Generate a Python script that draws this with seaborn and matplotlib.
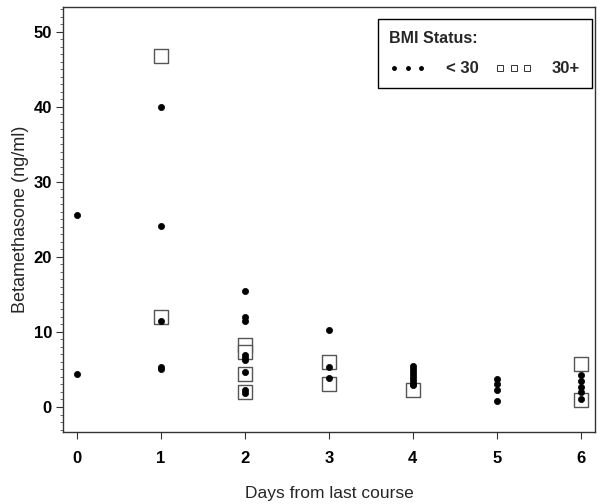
import matplotlib
matplotlib.use('Agg')
import matplotlib.pyplot as plt
from matplotlib.ticker import MultipleLocator
import seaborn as sns
import pandas as pd

# BMI < 30 (dots)
days_lo = [0, 0,
           1, 1, 1, 1, 1,
           2, 2, 2, 2, 2, 2, 2, 2, 2,
           3, 3, 3,
           4, 4, 4, 4, 4, 4, 4, 4,
           5, 5, 5, 5,
           6, 6, 6, 6, 6]
conc_lo = [25.6, 4.4,
           40.0, 24.1, 11.5, 5.3, 5.1,
           15.4, 12.0, 11.5, 6.9, 6.5, 6.2, 4.7, 2.2, 1.9,
           10.2, 5.3, 3.8,
           5.5, 5.1, 4.7, 4.3, 3.9, 3.5, 3.1, 2.9,
           3.7, 3.0, 2.3, 0.8,
           4.3, 3.4, 2.7, 2.0, 1.1]

# BMI 30+ (open squares)
days_hi = [1, 1, 2, 2, 2, 2, 3, 3, 4, 6, 6]
conc_hi = [46.8, 12.0, 8.3, 7.3, 4.4, 2.0, 6.0, 3.0, 2.3, 5.7, 0.9]

df_lo = pd.DataFrame({'days': days_lo, 'conc': conc_lo})
df_hi = pd.DataFrame({'days': days_hi, 'conc': conc_hi})

sns.set_style('ticks')
plt.rcParams['font.family'] = ['Liberation Sans', 'DejaVu Sans']

fig = plt.figure(figsize=(6.02, 5.04), dpi=100)
ax = fig.add_axes([0.1047, 0.1429, 0.8837, 0.8433])

sns.scatterplot(data=df_hi, x='days', y='conc', marker='s', s=110,
                facecolor='white', edgecolor='#555555', linewidth=1.0,
                ax=ax, zorder=2, legend=False)
sns.scatterplot(data=df_lo, x='days', y='conc', marker='o', s=20,
                color='black', edgecolor='black', linewidth=0.5,
                ax=ax, zorder=3, legend=False)

ax.set_xlim(-0.167, 6.17)
ax.set_ylim(-3.33, 53.33)
ax.set_xticks(range(7))
ax.yaxis.set_major_locator(MultipleLocator(10))
ax.yaxis.set_minor_locator(MultipleLocator(1))
ax.tick_params(axis='both', which='major', direction='out', length=5,
               width=0.8, labelsize=12, colors='#333333', labelcolor='black')
ax.tick_params(axis='x', which='major', pad=9)
ax.tick_params(axis='y', which='major', pad=3)
ax.tick_params(axis='y', which='minor', direction='out', length=2.5,
               width=0.6, colors='#555555')
for lab in ax.get_xticklabels() + ax.get_yticklabels():
    lab.set_fontweight('bold')

for sp in ax.spines.values():
    sp.set_color('#333333')
    sp.set_linewidth(1.0)

ax.set_xlabel('Days from last course', fontsize=12.5, labelpad=14)
ax.set_ylabel('Betamethasone (ng/ml)', fontsize=13, labelpad=3)

# legend with three symbols per entry, side by side
leg_lo = plt.Line2D([], [], linestyle='none', marker='o', markersize=2.5,
                    color='black')
leg_hi = plt.Line2D([], [], linestyle='none', marker='s', markersize=5,
                    markerfacecolor='white', markeredgecolor='#333333',
                    markeredgewidth=0.7)
leg = ax.legend([leg_lo, leg_hi], ['< 30', '30+'], title='BMI Status:',
                loc='upper right', ncol=2, numpoints=3,
                handlelength=2.2, handletextpad=1.2, columnspacing=1.0,
                fancybox=False, edgecolor='black', framealpha=1,
                fontsize=12, title_fontsize=11.5, borderpad=0.7,
                labelspacing=0.95, borderaxespad=0,
                bbox_to_anchor=(0.994, 0.972))
leg.get_frame().set_linewidth(1.0)
leg._legend_box.align = 'left'
leg.get_title().set_fontweight('bold')
for t in leg.get_texts():
    t.set_fontweight('bold')

fig.savefig('out.png', dpi=100)
